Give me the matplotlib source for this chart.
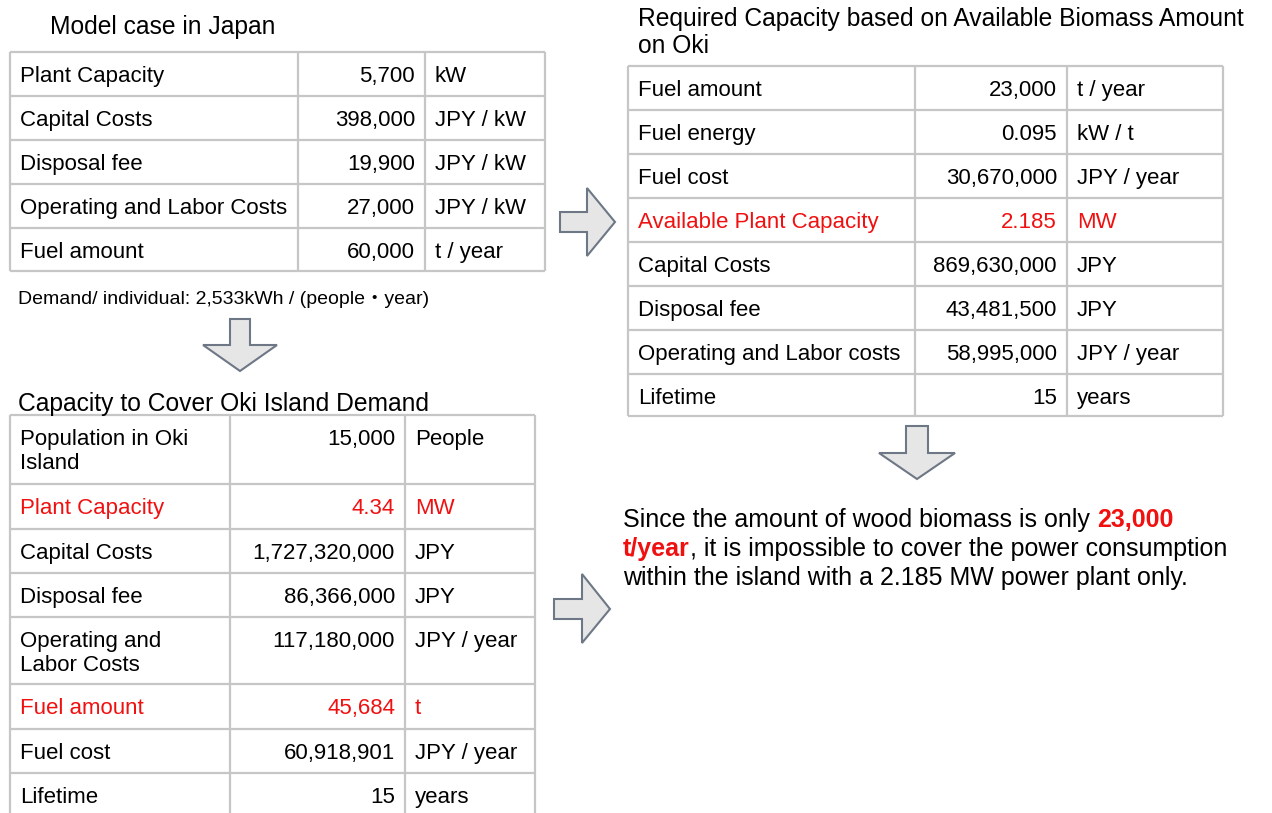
import matplotlib
matplotlib.use("Agg")
import matplotlib.pyplot as plt
from matplotlib.patches import Polygon

plt.rcParams['font.family'] = ['Liberation Sans', 'Noto Sans CJK JP', 'DejaVu Sans']

RED = '#f01010'
GRID = '#c6c6c6'

# データ
t1_labels = ["Plant Capacity", "Capital Costs", "Disposal fee", "Operating and Labor Costs", "Fuel amount"]
t1_values = ["5,700", "398,000", "19,900", "27,000", "60,000"]
t1_units = ["kW", "JPY / kW", "JPY / kW", "JPY / kW", "t / year"]

t2_labels = ["Population in Oki\nIsland", "Plant Capacity", "Capital Costs", "Disposal fee",
             "Operating and\nLabor Costs", "Fuel amount", "Fuel cost", "Lifetime"]
t2_values = ["15,000", "4.34", "1,727,320,000", "86,366,000", "117,180,000", "45,684", "60,918,901", "15"]
t2_units = ["People", "MW", "JPY", "JPY", "JPY / year", "t", "JPY / year", "years"]
t2_red = [1, 5]

t3_labels = ["Fuel amount", "Fuel energy", "Fuel cost", "Available Plant Capacity", "Capital Costs",
             "Disposal fee", "Operating and Labor costs", "Lifetime"]
t3_values = ["23,000", "0.095", "30,670,000", "2.185", "869,630,000", "43,481,500", "58,995,000", "15"]
t3_units = ["t / year", "kW / t", "JPY / year", "MW", "JPY", "JPY", "JPY / year", "years"]
t3_red = [3]

fig = plt.figure(figsize=(12.72, 8.13), dpi=100)
ax = fig.add_axes([0, 0, 1, 1])
ax.set_xlim(0, 1272)
ax.set_ylim(813, 0)
ax.axis('off')

FS = 16
TFS = 17.7


def draw_table(xs, ys, labels, values, units, red=()):
    for y in ys:
        ax.plot([xs[0], xs[-1]], [y, y], color=GRID, lw=1.6, solid_capstyle='butt')
    for x in xs:
        ax.plot([x, x], [ys[0], ys[-1]], color=GRID, lw=1.6, solid_capstyle='butt')
    for i, (lab, val, unit) in enumerate(zip(labels, values, units)):
        c = RED if i in red else 'black'
        base = ys[i] + 30
        for k, line in enumerate(lab.split("\n")):
            ax.text(xs[0] + 10, base + k * 24, line, fontsize=FS, color=c, va='baseline', ha='left')
        ax.text(xs[2] - 10, base, val, fontsize=FS, color=c, va='baseline', ha='right')
        ax.text(xs[2] + 10, base, unit, fontsize=FS, color=c, va='baseline', ha='left')


def arrow(pts):
    ax.add_patch(Polygon(pts, closed=True, facecolor='#e6e6e6', edgecolor='#6e7785', lw=1.5))


# 表1
ax.text(50, 34, "Model case in Japan", fontsize=TFS, va='baseline')
draw_table([10, 298, 425, 545], [52, 96, 140, 184, 228, 271], t1_labels, t1_values, t1_units)
ax.text(18, 304, "Demand/ individual: 2,533kWh / (people・year)", fontsize=14, va='baseline')

# 表2
ax.text(18, 411, "Capacity to Cover Oki Island Demand", fontsize=TFS, va='baseline')
draw_table([10, 230, 405, 535], [415, 484, 529, 573, 617, 684, 729, 773, 840],
           t2_labels, t2_values, t2_units, t2_red)

# 表3
ax.text(638, 26, "Required Capacity based on Available Biomass Amount", fontsize=TFS, va='baseline')
ax.text(638, 53, "on Oki", fontsize=TFS, va='baseline')
draw_table([628, 915, 1067, 1223], [66, 110, 154, 198, 242, 286, 330, 374, 416],
           t3_labels, t3_values, t3_units, t3_red)

# 矢印
arrow([(230, 319), (250, 319), (250, 345), (277, 345), (240, 371), (203, 345), (230, 345)])
arrow([(906, 426), (928, 426), (928, 453), (955, 453), (917, 479), (879, 453), (906, 453)])
arrow([(560, 212), (587, 212), (587, 188), (615, 222), (587, 256), (587, 232), (560, 232)])
arrow([(554, 599), (582, 599), (582, 574), (610, 609), (582, 643), (582, 619), (554, 619)])

# 結論
lines = [
    [("Since the amount of wood biomass is only ", False), ("23,000", True)],
    [("t/year", True), (", it is impossible to cover the power consumption", False)],
    [("within the island with a 2.185 MW power plant only.", False)],
]
fig.canvas.draw()
inv = ax.transData.inverted()
for j, parts in enumerate(lines):
    x = 623
    y = 527 + j * 29
    for txt, bold in parts:
        t = ax.text(x, y, txt, fontsize=18, va='baseline', ha='left',
                    color=RED if bold else 'black', fontweight='bold' if bold else 'normal')
        bb = t.get_window_extent(renderer=fig.canvas.get_renderer())
        x = inv.transform((bb.x1, bb.y0))[0]

fig.savefig("out.png", dpi=100, facecolor='white')
